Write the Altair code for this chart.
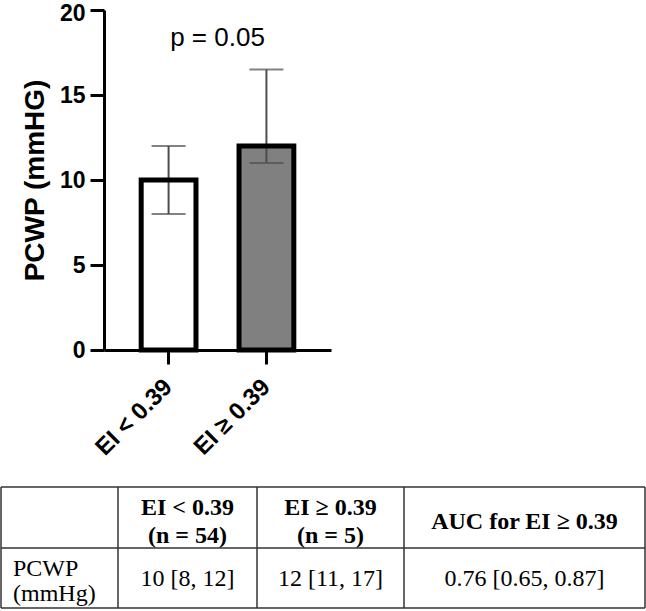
import altair as alt
import pandas as pd

# ---- data ----
groups = ["EI < 0.39", "EI ≥ 0.39"]
medians = [10, 12]
lower = [8, 11]
upper = [12, 16.5]
fills = ["#ffffff", "#808080"]
p_label = "p = 0.05"
p_pos = 17.9

table_header = ["", "EI < 0.39\n(n = 54)", "EI ≥ 0.39\n(n = 5)", "AUC for EI ≥ 0.39"]
table_row = ["PCWP\n(mmHg)", "10 [8, 12]", "12 [11, 17]", "0.76 [0.65, 0.87]"]

# ---- layout (pixels) ----
W, H = 646, 611
X_RANGE = [104, 331]
Y_RANGE = [350, 10]
TABLE_X = [1, 645]
TABLE_Y = [487, 608]
col_edges = [0, 117, 256, 403, 644]
row_edges = [0, 61, 121]
HEADER_LH = 28
BODY_LH = 25

SANS = "Liberation Sans"
SERIF = "Liberation Serif"
ERR_COLOR = "#4d4d4d"
GRID_COLOR = "#333333"

bars = pd.DataFrame({"group": groups, "median": medians, "lower": lower, "upper": upper})

x_enc = alt.X(
    "group:N",
    sort=groups,
    scale=alt.Scale(domain=groups, range=X_RANGE, paddingInner=0.44, paddingOuter=0.38),
    axis=alt.Axis(
        offset=-(H - Y_RANGE[0]),
        title=None,
        labelAngle=315,
        labelAlign="right",
        labelBaseline="middle",
        labelPadding=19,
        labelFont=SANS,
        labelFontWeight="bold",
        labelFontSize=24,
        labelColor="black",
        domainColor="black",
        domainWidth=3,
        tickColor="black",
        tickWidth=3,
        tickSize=14,
    ),
)
y_scale = alt.Scale(domain=[0, 20], range=Y_RANGE, nice=False, zero=True)
y_enc = alt.Y(
    "median:Q",
    scale=y_scale,
    axis=alt.Axis(
        values=[0, 5, 10, 15, 20],
        offset=-X_RANGE[0],
        grid=False,
        title="PCWP (mmHG)",
        titleFont=SANS,
        titleFontWeight="bold",
        titleFontSize=28,
        titleColor="black",
        titlePadding=10,
        labelFont=SANS,
        labelFontWeight="bold",
        labelFontSize=23,
        labelColor="black",
        labelPadding=5,
        # keep the top label clear of the page edge
        labelOffset={"condition": {"test": "datum.value == 20", "value": 3}, "value": 0.5},
        domainColor="black",
        domainWidth=3,
        tickColor="black",
        tickWidth=3,
        tickSize=14,
    ),
)

base = alt.Chart(bars)

bar_fill = base.mark_bar(strokeWidth=0).encode(
    x=x_enc,
    y=y_enc,
    fill=alt.Fill("group:N", scale=alt.Scale(domain=groups, range=fills), legend=None),
)

err_rule = base.mark_rule(color=ERR_COLOR, strokeWidth=2).encode(
    x=x_enc,
    y=alt.Y("lower:Q", scale=y_scale),
    y2="upper:Q",
)

err_caps = base.transform_fold(["lower", "upper"], as_=["end", "value"]).mark_tick(
    color=ERR_COLOR, size=34, thickness=2, orient="horizontal"
).encode(
    x=x_enc,
    y=alt.Y("value:Q", scale=y_scale),
)

bar_outline = base.mark_bar(fillOpacity=0, stroke="black", strokeWidth=5).encode(
    x=x_enc,
    y=y_enc,
)

p_text = alt.Chart(pd.DataFrame({"label": [p_label], "pos": [p_pos]})).mark_text(
    font=SANS, fontSize=26, color="black", align="center", baseline="alphabetic"
).encode(
    x=alt.value((X_RANGE[0] + X_RANGE[1]) / 2),
    y=alt.Y("pos:Q", scale=y_scale),
    text="label:N",
)

plot = alt.layer(bar_fill, err_rule, err_caps, bar_outline, p_text)

# ---- summary table ----
tx_scale = alt.Scale(domain=[col_edges[0], col_edges[-1]], range=TABLE_X, nice=False, zero=False)
ty_scale = alt.Scale(domain=[row_edges[0], row_edges[-1]], range=TABLE_Y, nice=False, zero=False)

hlines = pd.DataFrame({"y": row_edges, "x0": col_edges[0], "x1": col_edges[-1]})
vlines = pd.DataFrame({"x": col_edges, "y0": row_edges[0], "y1": row_edges[-1]})

h_rules = alt.Chart(hlines).mark_rule(color=GRID_COLOR, strokeWidth=1.5).encode(
    x=alt.X("x0:Q", scale=tx_scale, axis=None),
    x2="x1:Q",
    y=alt.Y("y:Q", scale=ty_scale, axis=None),
)
v_rules = alt.Chart(vlines).mark_rule(color=GRID_COLOR, strokeWidth=1.5).encode(
    x=alt.X("x:Q", scale=tx_scale, axis=None),
    y=alt.Y("y0:Q", scale=ty_scale, axis=None),
    y2="y1:Q",
)

col_centers = [(a + b) / 2 for a, b in zip(col_edges[:-1], col_edges[1:])]
row_centers = [(a + b) / 2 for a, b in zip(row_edges[:-1], row_edges[1:])]


def cell_lines(texts, xs, yc, line_height):
    """Split each cell's text into lines stacked around the row centre."""
    rows = []
    for text, x in zip(texts, xs):
        parts = text.split("\n")
        n = len(parts)
        for i, part in enumerate(parts):
            rows.append({"x": x, "y": yc + (i - (n - 1) / 2) * line_height, "text": part})
    return pd.DataFrame(rows)


header_df = cell_lines(table_header[1:], col_centers[1:], row_centers[0], HEADER_LH)
body_df = cell_lines(table_row[1:], col_centers[1:], row_centers[1], BODY_LH)
label_df = cell_lines(table_row[:1], col_edges[:1], row_centers[1], BODY_LH)


def table_text(df, **style):
    return alt.Chart(df).mark_text(
        font=SERIF, fontSize=24, color="black", baseline="middle", **style
    ).encode(
        x=alt.X("x:Q", scale=tx_scale, axis=None),
        y=alt.Y("y:Q", scale=ty_scale, axis=None),
        text="text:N",
    )


header_text = table_text(header_df, fontWeight="bold", align="center", dy=4)
body_text = table_text(body_df, align="center", dy=1)
label_text = table_text(label_df, align="left", dx=12, dy=3)

table = alt.layer(h_rules, v_rules, header_text, body_text, label_text)

chart = (
    alt.layer(plot, table)
    .resolve_scale(x="independent", y="independent")
    .properties(width=W, height=H, autosize=alt.AutoSizeParams(type="none"), padding=0, background="white")
    .configure_view(stroke=None)
)

chart.save("out.html", embed_options={"renderer": "svg", "actions": False})
